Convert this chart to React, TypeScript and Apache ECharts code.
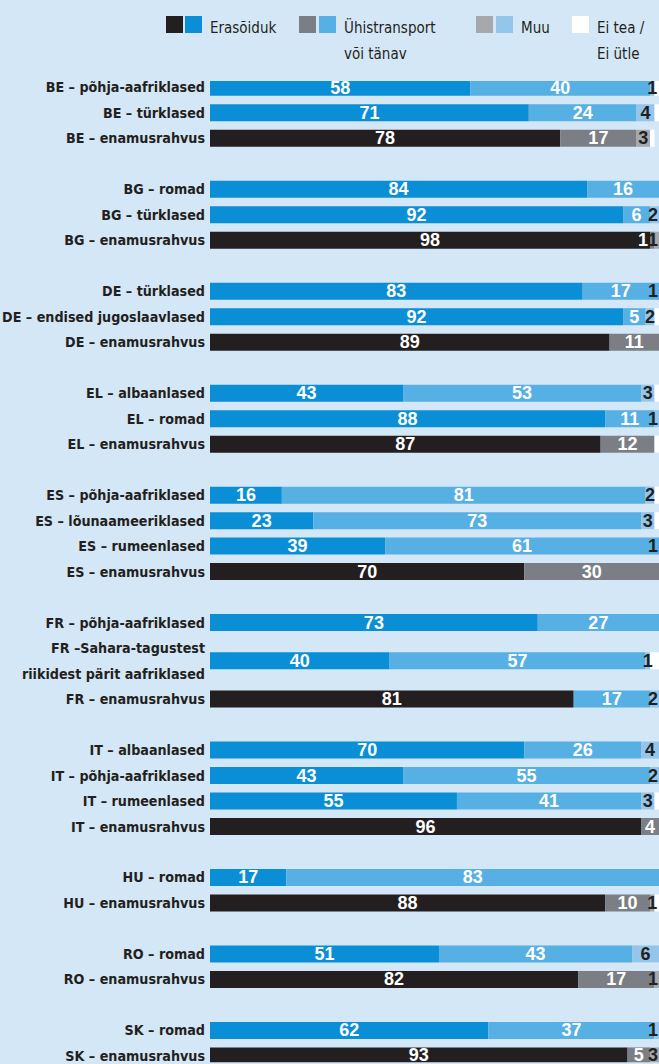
import React, { useEffect, useRef } from "react";
import * as echarts from "echarts";

// ---- data ----
const groups: string[][] = [
  ["BE – põhja-aafriklased", "BE – türklased", "BE – enamusrahvus"],
  ["BG – romad", "BG – türklased", "BG – enamusrahvus"],
  ["DE – türklased", "DE – endised jugoslaavlased", "DE – enamusrahvus"],
  ["EL – albaanlased", "EL – romad", "EL – enamusrahvus"],
  ["ES – põhja-aafriklased", "ES – lõunaameeriklased", "ES – rumeenlased", "ES – enamusrahvus"],
  ["FR – põhja-aafriklased", "FR –Sahara-tagustest\nriikidest pärit aafriklased", "FR – enamusrahvus"],
  ["IT – albaanlased", "IT – põhja-aafriklased", "IT – rumeenlased", "IT – enamusrahvus"],
  ["HU – romad", "HU – enamusrahvus"],
  ["RO – romad", "RO – enamusrahvus"],
  ["SK – romad", "SK – enamusrahvus"],
];

const erasoiduk = [58, 71, 78, 84, 92, 98, 83, 92, 89, 43, 88, 87, 16, 23, 39, 70, 73, 40, 81, 70, 43, 55, 96, 17, 88, 51, 82, 62, 93];
const uhistransport = [40, 24, 17, 16, 6, 1, 17, 5, 11, 53, 11, 12, 81, 73, 61, 30, 27, 57, 17, 26, 55, 41, 4, 83, 10, 43, 17, 37, 5];
const muu = [1, 4, 3, 0, 2, 1, 1, 2, 0, 3, 1, 0, 2, 3, 1, 0, 0, 1, 2, 4, 2, 3, 0, 0, 1, 6, 1, 1, 3];
const eiTea = [1, 1, 1, 0, 0, 0, 0, 1, 0, 1, 0, 1, 1, 1, 0, 0, 0, 2, 0, 0, 0, 1, 0, 0, 1, 0, 0, 0, 0];

const legendNames = ["Erasõiduk", "Ühistransport\nvõi tänav", "Muu", "Ei tea /\nEi ütle"];

// ---- styling ----
const BG = "#d4e7f6";
const DARK = "#231f20";
const MIN_COLORS = ["#0a8fd6", "#57b0e3", "#93c6ea", "#ffffff"];
const MAJ_COLORS = ["#231f20", "#7b7f85", "#a5a8ac", "#ffffff"];
const MIX_COLORS = ["#231f20", "#57b0e3", "#93c6ea", "#ffffff"];
const LABEL_FONT = "'DejaVu Sans Condensed', 'Liberation Sans Narrow', sans-serif";
const VALUE_FONT = "'Liberation Sans', Arial, sans-serif";

const GRID_LEFT = 210;
const X_MAX = 102;
const PX_PER_UNIT = 4.49;

function buildSlots() {
  const slots: string[] = [];
  const rowSlot: number[] = [];
  const rowLabels: string[] = [];
  let cur = -2;
  let prevTwoLine = false;
  groups.forEach((g, gi) => {
    g.forEach((label, li) => {
      const twoLine = label.includes("\n");
      let step = li === 0 && gi > 0 ? 4 : 2;
      if (twoLine || prevTwoLine) step += 1;
      cur += step;
      rowSlot.push(cur);
      rowLabels.push(label);
      prevTwoLine = twoLine;
    });
  });
  for (let i = 0; i <= cur; i++) slots.push("");
  rowSlot.forEach((s, i) => (slots[s] = rowLabels[i]));
  return { slots, rowSlot, rowLabels };
}

export default function App() {
  const ref = useRef<HTMLDivElement>(null);
  useEffect(() => {
    if (!ref.current) return;
    const chart = echarts.init(ref.current, null, { renderer: "svg" });
    const { slots, rowSlot, rowLabels } = buildSlots();
    const nSlots = slots.length;
    const slotH = 12.745;
    const gridTop = 87.3 - slotH / 2;

    const palette = (i: number) => {
      const lab = rowLabels[i];
      if (lab.startsWith("FR") && lab.includes("enamusrahvus")) return MIX_COLORS;
      return lab.includes("enamusrahvus") ? MAJ_COLORS : MIN_COLORS;
    };

    const seriesVals = [erasoiduk, uhistransport, muu, eiTea];
    const series = seriesVals.map((vals, si) => {
      const data: any[] = slots.map(() => "-");
      vals.forEach((v, ri) => {
        const before = seriesVals.slice(0, si).reduce((a, arr) => a + arr[ri], 0);
        const centerPx = GRID_LEFT + (before + v / 2) * PX_PER_UNIT;
        const item: any = {
          value: v,
          itemStyle: { color: palette(ri)[si] },
        };
        if (si === 3 || v === 0) {
          item.label = { show: false };
        } else {
          let limit = Infinity;
          if (si === 2) limit = 653;
          if (si === 1) limit = muu[ri] > 0 ? 643 : 652;
          const dx = Math.min(0, limit - centerPx);
          if (dx < 0) item.label = { offset: [dx, 0] };
        }
        data[rowSlot[ri]] = item;
      });
      return {
        type: "bar",
        name: legendNames[si],
        stack: "total",
        barWidth: 17,
        data,
        label: {
          show: si < 3,
          position: "inside",
          color: si === 2 ? DARK : "#ffffff",
          fontWeight: "bold",
          fontSize: 18,
          fontFamily: VALUE_FONT,
          formatter: (p: any) => String(p.value),
        },
        emphasis: { disabled: true },
      };
    });

    const sq = 17;
    const legendY = 16;
    const textStyle = (txt: string) => ({
      text: txt,
      font: `15px ${LABEL_FONT}`,
      fill: DARK,
      lineHeight: 26,
      verticalAlign: "top" as const,
    });

    chart.setOption({
      animation: false,
      backgroundColor: BG,
      grid: {
        left: GRID_LEFT,
        top: gridTop,
        width: PX_PER_UNIT * X_MAX,
        height: nSlots * slotH,
        containLabel: false,
        outerBoundsMode: "none",
      },
      xAxis: {
        type: "value",
        min: 0,
        max: X_MAX,
        show: false,
      },
      yAxis: {
        type: "category",
        inverse: true,
        data: slots,
        axisLine: { show: false },
        axisTick: { show: false },
        splitLine: { show: false },
        axisLabel: {
          interval: 0,
          margin: 5,
          color: DARK,
          fontWeight: "bold",
          fontSize: 14.2,
          lineHeight: 26,
          fontFamily: LABEL_FONT,
          hideOverlap: false,
        },
      },
      series,
      graphic: [
        { type: "rect", shape: { x: 166, y: legendY, width: sq, height: sq }, style: { fill: MAJ_COLORS[0] } },
        { type: "rect", shape: { x: 185, y: legendY, width: sq, height: sq }, style: { fill: MIN_COLORS[0] } },
        { type: "text", x: 210, y: 15, style: textStyle(legendNames[0]) },
        { type: "rect", shape: { x: 299, y: legendY, width: sq, height: sq }, style: { fill: MAJ_COLORS[1] } },
        { type: "rect", shape: { x: 319, y: legendY, width: sq, height: sq }, style: { fill: MIN_COLORS[1] } },
        { type: "text", x: 344, y: 15, style: textStyle(legendNames[1]) },
        { type: "rect", shape: { x: 476, y: legendY, width: sq, height: sq }, style: { fill: MAJ_COLORS[2] } },
        { type: "rect", shape: { x: 496, y: legendY, width: sq, height: sq }, style: { fill: MIN_COLORS[2] } },
        { type: "text", x: 521, y: 15, style: textStyle(legendNames[2]) },
        { type: "rect", shape: { x: 572, y: legendY, width: sq, height: sq }, style: { fill: "#ffffff" } },
        { type: "text", x: 597, y: 15, style: textStyle(legendNames[3]) },
      ],
    });
    return () => chart.dispose();
  }, []);

  return (
    <div
      style={{
        position: "absolute",
        left: 0,
        top: 0,
        width: 659,
        height: 1064,
        overflow: "hidden",
        background: BG,
      }}
    >
      <div ref={ref} style={{ width: 700, height: 1064 }} />
    </div>
  );
}
